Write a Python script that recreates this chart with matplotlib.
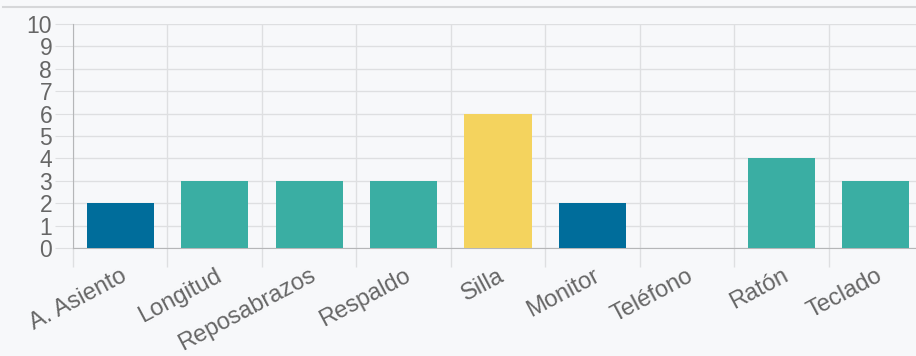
import numpy as np
import matplotlib
matplotlib.use("Agg")
import matplotlib.pyplot as plt
from matplotlib.lines import Line2D

# Datos del gráfico
categorias = ["A. Asiento", "Longitud", "Reposabrazos", "Respaldo", "Silla",
              "Monitor", "Teléfono", "Ratón", "Teclado"]
valores = [2, 3, 3, 3, 6, 2, 0, 4, 3]
colores = ["#006d9b", "#3aaea3", "#3aaea3", "#3aaea3", "#f4d35e",
           "#006d9b", "#3aaea3", "#3aaea3", "#3aaea3"]
yticks = list(range(0, 11))

plt.rcParams["font.family"] = ["Liberation Sans", "DejaVu Sans"]

bg = "#f7f8fa"
grid_c = "#dedfe1"
fig = plt.figure(figsize=(9.16, 3.56), dpi=100, facecolor=bg)
W, H = 916, 356
ax = fig.add_axes([73 / W, 108 / H, 850 / W, 224 / H], facecolor=bg)

x = np.arange(len(categorias))
ax.bar(x, valores, width=0.71, color=colores, zorder=3)

ax.set_xlim(-0.5, len(categorias) - 0.5)
ax.set_ylim(0, 10)

ax.set_yticks(yticks)
ax.set_yticklabels([str(v) for v in yticks], fontsize=16.5, color="#666666")
ax.tick_params(axis="y", length=13, color=grid_c, pad=2)

ax.set_xticks(x)
ax.set_xticklabels(categorias, fontsize=17, color="#666666",
                   rotation=28, ha="right", va="top", rotation_mode="anchor")
ax.tick_params(axis="x", which="major", length=0, pad=12)
ax.set_xticks(np.arange(-0.5, len(categorias)), minor=True)
ax.tick_params(axis="x", which="minor", length=14, color=grid_c, width=1)

ax.grid(axis="y", color=grid_c, lw=1, zorder=0)
ax.grid(axis="x", which="minor", color=grid_c, lw=1, zorder=0)

for s in ["top", "right"]:
    ax.spines[s].set_visible(False)
ax.spines["left"].set_color("#b5b6b8")
ax.spines["bottom"].set_color("#b5b6b8")

fig.add_artist(Line2D([0.003, 1], [1 - 7 / H, 1 - 7 / H], color="#d6d7d9", lw=1.5))

fig.savefig("out.png", dpi=100, facecolor=bg)
